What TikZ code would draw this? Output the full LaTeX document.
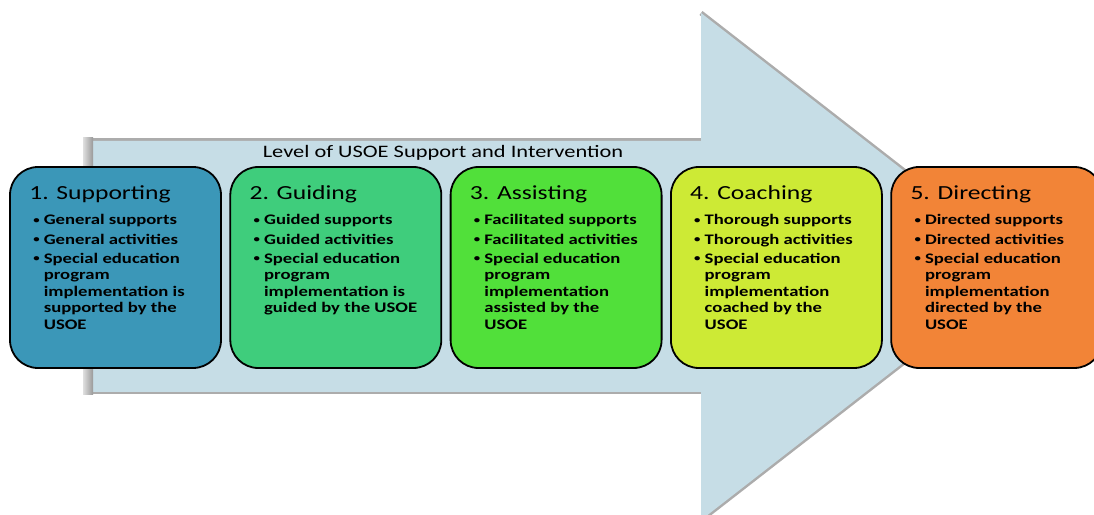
\documentclass[tikz,border=0pt]{standalone}
\usepackage{fontspec}
\setmainfont{Carlito}[FakeStretch=1.28]
\usetikzlibrary{positioning}

\definecolor{arrowblue}{RGB}{198,221,230}
\definecolor{supportblue}{RGB}{59,151,184}
\definecolor{guidegreen}{RGB}{63,205,124}
\definecolor{assistgreen}{RGB}{81,224,58}
\definecolor{coachlime}{RGB}{205,234,53}
\definecolor{directorange}{RGB}{242,132,55}

% small round bullet
\newcommand{\dotmark}{\raisebox{.25ex}{\fontsize{10}{10}\selectfont\textbullet}}

% three bullet points, the last one may run over several lines
\newcommand{\stagelist}[3]{%
  \begin{tabular}{@{}p{10.5pt}@{}l@{}}
    \dotmark & #1\\[2.8pt]
    \dotmark & #2\\[2.8pt]
    \dotmark & #3
  \end{tabular}}

\begin{document}
\begin{tikzpicture}[
                    x=1pt, y=1pt,
                    stage/.style={draw=black, line width=1.8pt, rounded corners=28pt,
                                  minimum width=211pt, minimum height=201pt},
                    heading/.style={anchor=north west, inner sep=0pt,
                                    font=\fontsize{20}{24}\selectfont},
                    bullets/.style={anchor=north west, inner sep=0pt,
                                    font=\bfseries\fontsize{14.6}{16.5}\selectfont},
                    edge/.style={draw=gray!65, line width=5pt, line join=round}
                ]
                  \useasboundingbox (0,0) rectangle (1094,514);

                  % big arrow behind the stages
                  \coordinate (tl) at (93,373);
                  \coordinate (tr) at (701,373);
                  \coordinate (ht) at (701,501);
                  \coordinate (tip) at (1027,247.5);
                  \coordinate (hb) at (701,-6);
                  \coordinate (br) at (701,122);
                  \coordinate (bl) at (93,122);
                  \draw[edge] (tl) -- (tr);
                  \draw[edge] (bl) -- (br);
                  \draw[edge] (ht) -- (tip) -- (hb);
                  \fill[arrowblue] (tl) -- (tr) -- (ht) -- (tip) -- (hb) -- (br) -- (bl) -- cycle;
                  \shade[left color=gray!25, right color=gray!80] (83,119) rectangle (93,376);

                  \node (title) at (443,361) {\fontsize{17.5}{20}\selectfont Level of USOE Support and Intervention};

                  % the five stages
                  \node[stage, fill=supportblue] (s1) at (115.5,246.5) {};
                  \node[stage, fill=guidegreen, right=7.5pt of s1] (s2) {};
                  \node[stage, fill=assistgreen, right=7.5pt of s2] (s3) {};
                  \node[stage, fill=coachlime, right=7.5pt of s3] (s4) {};
                  \node[stage, fill=directorange, right=7.5pt of s4] (s5) {};

                  \node[heading] (h1) [below right=19pt and 20pt of s1.north west] {1. Supporting};
                  \node[heading] (h2) [below right=19pt and 20pt of s2.north west] {2. Guiding};
                  \node[heading] (h3) [below right=19pt and 20pt of s3.north west] {3. Assisting};
                  \node[heading] (h4) [below right=19pt and 20pt of s4.north west] {4. Coaching};
                  \node[heading] (h5) [below right=19pt and 20pt of s5.north west] {5. Directing};

                  \node[bullets] (l1) [below right=47pt and 24pt of s1.north west]
                    {\stagelist{General supports}{General activities}
                      {Special education\\ & program\\ & implementation is\\ & supported by the\\ & USOE}};
                  \node[bullets] (l2) [below right=47pt and 24pt of s2.north west]
                    {\stagelist{Guided supports}{Guided activities}
                      {Special education\\ & program\\ & implementation is\\ & guided by the USOE}};
                  \node[bullets] (l3) [below right=47pt and 24pt of s3.north west]
                    {\stagelist{Facilitated supports}{Facilitated activities}
                      {Special education\\ & program\\ & implementation\\ & assisted by the\\ & USOE}};
                  \node[bullets] (l4) [below right=47pt and 24pt of s4.north west]
                    {\stagelist{Thorough supports}{Thorough activities}
                      {Special education\\ & program\\ & implementation\\ & coached by the\\ & USOE}};
                  \node[bullets] (l5) [below right=47pt and 24pt of s5.north west]
                    {\stagelist{Directed supports}{Directed activities}
                      {Special education\\ & program\\ & implementation\\ & directed by the\\ & USOE}};
                \end{tikzpicture}
\end{document}
